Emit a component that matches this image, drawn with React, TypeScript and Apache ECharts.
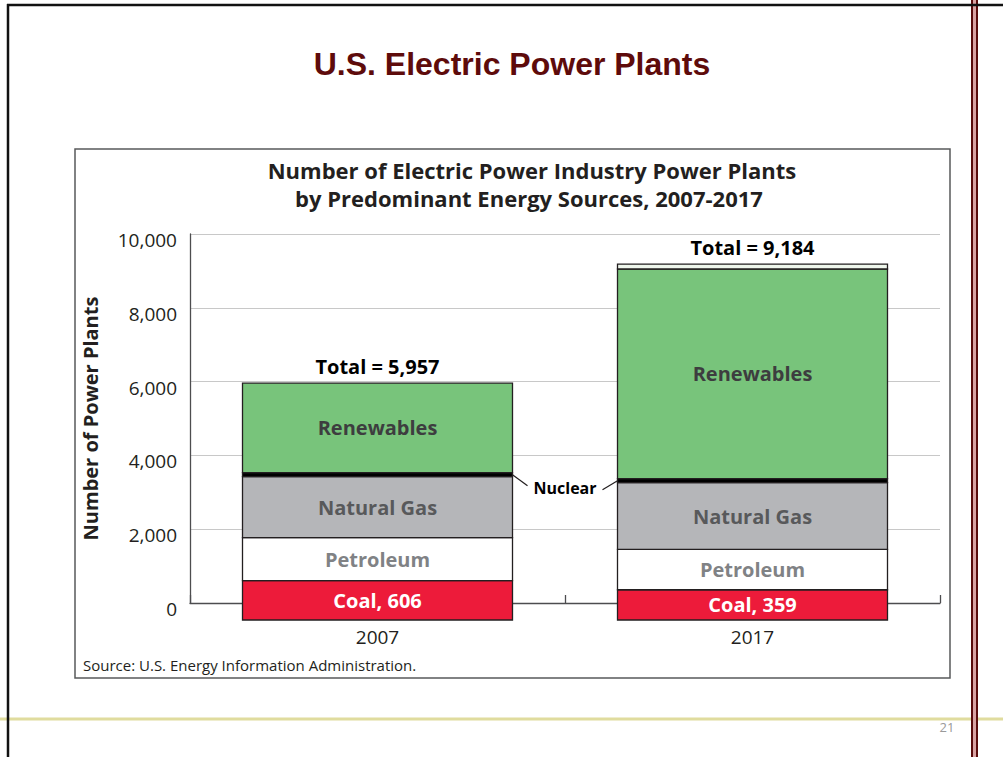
import React, { useEffect, useRef } from "react";
import * as echarts from "echarts";

const years = ["2007", "2017"];
const coal = [606, 359];
const petroleum = [1164, 1096];
const naturalGas = [1653, 1805];
const nuclear = [110, 110];
const renewables = [2424, 5681];
const otherSources = [0, 133];
const totals = [5957, 9184];

const FONT = "'Open Sans', 'Noto Sans', sans-serif";
const BAR_RATIO = 0.72;
const COAL_DROP = 17;

type Seg = { name: string; values: number[]; fill: string; label?: (v: number) => string; labelColor?: string };

const segments: Seg[] = [
  { name: "Coal", values: coal, fill: "#ed1b3a", label: (v) => "Coal, " + v.toLocaleString("en-US"), labelColor: "#ffffff" },
  { name: "Petroleum", values: petroleum, fill: "#ffffff", label: () => "Petroleum", labelColor: "#808285" },
  { name: "Natural Gas", values: naturalGas, fill: "#b5b6b9", label: () => "Natural Gas", labelColor: "#58595b" },
  { name: "Nuclear", values: nuclear, fill: "#000000" },
  { name: "Renewables", values: renewables, fill: "#78c47b", label: () => "Renewables", labelColor: "#3d3d3f" },
  { name: "Other", values: otherSources, fill: "#eef6ec" },
];

function buildSeries() {
  const cum = years.map(() => 0);
  const series: any[] = [];
  segments.forEach((seg) => {
    const data = years.map((_, i) => {
      const s = cum[i];
      const e = s + seg.values[i];
      cum[i] = e;
      return [i, s, e, seg.values[i]];
    });
    series.push({
      type: "custom",
      name: seg.name,
      z: 3,
      clip: false,
      encode: { x: 0, y: [1, 2] },
      data,
      renderItem: (params: any, api: any) => {
        const i = api.value(0);
        const s = api.value(1);
        const e = api.value(2);
        const v = api.value(3);
        if (e - s <= 0) return null;
        const base = api.coord([i, s]);
        const top = api.coord([i, e]);
        const band = api.size([1, 0])[0];
        const w = band * BAR_RATIO;
        let yb = base[1];
        if (seg.name === "Coal") yb += COAL_DROP;
        const children: any[] = [
          {
            type: "rect",
            shape: { x: base[0] - w / 2, y: top[1], width: w, height: yb - top[1] },
            style: { fill: seg.fill, stroke: "#231f20", lineWidth: 1.3 },
          },
        ];
        if (seg.label) {
          children.push({
            type: "text",
            x: base[0],
            y: (top[1] + yb) / 2,
            style: {
              text: seg.label(v),
              fill: seg.labelColor,
              font: `bold 20px ${FONT}`,
              align: "center",
              verticalAlign: "middle",
            },
          });
        }
        if (seg.name === "Nuclear") {
          const ym = (top[1] + base[1]) / 2;
          if (i === 0) {
            const xr = base[0] + w / 2;
            children.push({
              type: "line",
              shape: { x1: xr, y1: ym, x2: xr + 15, y2: ym + 11 },
              style: { stroke: "#231f20", lineWidth: 1.2 },
            });
            children.push({
              type: "text",
              x: base[0] + band / 2,
              y: ym + 13,
              style: { text: "Nuclear", fill: "#000", font: `bold 16px ${FONT}`, align: "center", verticalAlign: "middle" },
            });
          } else {
            const xl = base[0] - w / 2;
            children.push({
              type: "line",
              shape: { x1: xl, y1: ym, x2: xl - 15, y2: ym + 9 },
              style: { stroke: "#231f20", lineWidth: 1.2 },
            });
          }
        }
        return { type: "group", children };
      },
    });
  });
  series.push({
    type: "custom",
    name: "Total",
    z: 4,
    clip: false,
    encode: { x: 0, y: 1 },
    data: totals.map((t, i) => [i, t]),
    renderItem: (params: any, api: any) => {
      const p = api.coord([api.value(0), api.value(1)]);
      return {
        type: "text",
        x: p[0],
        y: p[1] - 17,
        style: {
          text: "Total = " + api.value(1).toLocaleString("en-US"),
          fill: "#000",
          font: `bold 20px ${FONT}`,
          align: "center",
          verticalAlign: "middle",
        },
      };
    },
  });
  return series;
}

export default function App() {
  const ref = useRef<HTMLDivElement>(null);
  useEffect(() => {
    if (!ref.current) return;
    const chart = echarts.init(ref.current, null, { renderer: "svg" });
    chart.setOption({
      animation: false,
      backgroundColor: "#ffffff",
      grid: { left: 190, right: 63, top: 234, bottom: 154, containLabel: false },
      xAxis: {
        type: "category",
        data: years,
        axisLine: { show: true, onZero: true, lineStyle: { color: "#4d4d4f", width: 1.3 } },
        axisTick: { show: true, inside: true, length: 8, alignWithLabel: false, lineStyle: { color: "#4d4d4f", width: 1.3 } },
        axisLabel: { margin: 24, fontSize: 19, fontFamily: FONT, color: "#231f20" },
        splitLine: { show: false },
      },
      yAxis: {
        type: "value",
        min: 0,
        max: 10000,
        interval: 2000,
        name: "Number of Power Plants",
        nameLocation: "middle",
        nameRotate: 90,
        nameGap: 90,
        nameTextStyle: { fontSize: 20, fontWeight: "bold", fontFamily: FONT, color: "#231f20" },
        axisLine: { show: true, lineStyle: { color: "#4d4d4f", width: 1.3 } },
        axisTick: { show: false },
        axisLabel: {
          margin: 13,
          fontSize: 19,
          fontFamily: FONT,
          color: "#231f20",
          verticalAlign: "top",
          lineHeight: 12,
          formatter: (v: number) => v.toLocaleString("en-US"),
        },
        splitLine: { show: true, lineStyle: { color: "#c8c8c8", width: 1 } },
      },
      series: buildSeries(),
      graphic: [
        { type: "line", z: 1, shape: { x1: 0, y1: 719, x2: 1003, y2: 719 }, style: { stroke: "#e0dc9e", lineWidth: 3 } },
        { type: "rect", z: 2, shape: { x: 971, y: 0, width: 7, height: 757 }, style: { fill: "#d9a3a3" } },
        { type: "line", z: 2, shape: { x1: 972, y1: 0, x2: 972, y2: 757 }, style: { stroke: "#5a0c0c", lineWidth: 2 } },
        { type: "line", z: 2, shape: { x1: 977, y1: 0, x2: 977, y2: 757 }, style: { stroke: "#5a0c0c", lineWidth: 2 } },
        { type: "line", z: 3, shape: { x1: 7, y1: 5, x2: 1003, y2: 5 }, style: { stroke: "#111", lineWidth: 2.5 } },
        { type: "line", z: 3, shape: { x1: 8, y1: 4, x2: 8, y2: 757 }, style: { stroke: "#111", lineWidth: 2.5 } },
        { type: "rect", z: 1, shape: { x: 75, y: 149, width: 875, height: 529 }, style: { fill: "none", stroke: "#58595b", lineWidth: 1.5 } },
        {
          type: "text", z: 5, x: 512, y: 64,
          style: { text: "U.S. Electric Power Plants", fill: "#5e0b0b", font: "bold 32px 'Liberation Sans', Arial, sans-serif", align: "center", verticalAlign: "middle" },
        },
        {
          type: "text", z: 5, x: 532, y: 170,
          style: { text: "Number of Electric Power Industry Power Plants", fill: "#231f20", font: `bold 22px ${FONT}`, align: "center", verticalAlign: "middle" },
        },
        {
          type: "text", z: 5, x: 529, y: 198,
          style: { text: "by Predominant Energy Sources, 2007-2017", fill: "#231f20", font: `bold 22px ${FONT}`, align: "center", verticalAlign: "middle" },
        },
        {
          type: "text", z: 5, x: 83, y: 665,
          style: { text: "Source: U.S. Energy Information Administration.", fill: "#231f20", font: `15px ${FONT}`, align: "left", verticalAlign: "middle" },
        },
        {
          type: "text", z: 5, x: 947, y: 727,
          style: { text: "21", fill: "#9a9a9a", font: `13px ${FONT}`, align: "center", verticalAlign: "middle" },
        },
      ],
    });
    return () => chart.dispose();
  }, []);
  return <div ref={ref} style={{ position: "fixed", left: 0, top: 0, width: 1003, height: 757 }} />;
}
